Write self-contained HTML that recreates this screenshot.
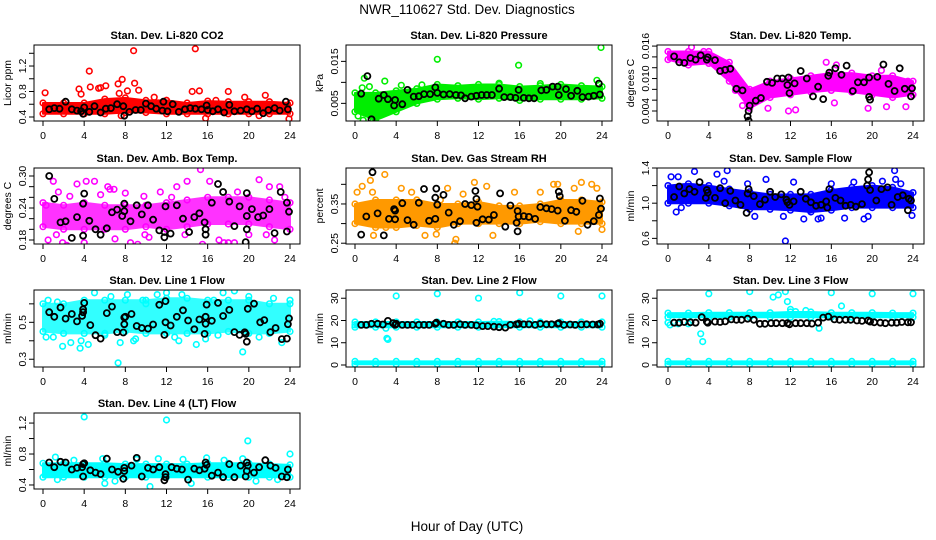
<!DOCTYPE html>
<html><head><meta charset="utf-8">
<style>
html,body{margin:0;padding:0;background:#fff;}
svg{display:block;font-family:"Liberation Sans",Arial,sans-serif;}
</style></head>
<body>
<svg id="chart" width="936" height="540" viewBox="0 0 936 540" xmlns="http://www.w3.org/2000/svg">
<rect x="0" y="0" width="936" height="540" fill="#fff"/>
<text x="467" y="14" text-anchor="middle" font-size="13.5">NWR_110627  Std. Dev. Diagnostics</text>
<text x="467" y="531" text-anchor="middle" font-size="13.5">Hour of Day (UTC)</text>
</svg>
<script>
// ---------------- data ----------------
const xTicks = [0,4,8,12,16,20,24];
const bandHours = [0,2,4,6,8,10,12,14,16,18,20,22,24];

const co2BandLo = [.45,.45,.45,.45,.47,.47,.45,.45,.45,.45,.45,.45,.45];
const co2BandHi = [.62,.62,.62,.68,.70,.66,.66,.62,.65,.64,.64,.64,.62];
const co2Extra = [[0.2,.78],[3.5,.84],[3.7,.76],[4.5,1.12],[4.6,.87],[5.4,.85],[5.6,.86],[6.1,.89],[7.3,.92],[7.7,.99],[7.4,.77],[8.8,1.44],[8.9,.93],[9.3,.82],[8.2,.81],[14.8,1.47],[14.5,.80],[15.2,.81],[15.8,.38],[18.0,.80],[21.6,.74],[23.9,.37],[10.8,.71],[19.6,.71],[7.6,.42],[21.0,.42],[12.0,.66],[16.8,.66]];
const co2Black = [[0.6,.52],[1.1,.54],[1.6,.53],[2.2,.64],[2.8,.52],[3.3,.50],[3.7,.49],[3.9,.45],[4.0,.55],[4.5,.48],[5.0,.57],[5.6,.47],[6.1,.53],[6.6,.54],[7.2,.60],[7.8,.57],[7.9,.42],[8.4,.48],[9.0,.51],[9.5,.51],[10.0,.61],[10.5,.57],[11.0,.53],[11.6,.50],[11.7,.64],[12.1,.49],[12.6,.60],[13.2,.48],[13.8,.52],[14.3,.54],[14.8,.53],[15.4,.52],[15.9,.58],[16.0,.51],[16.5,.49],[17.0,.52],[17.6,.47],[18.1,.59],[18.6,.49],[19.2,.50],[19.8,.52],[20.3,.49],[20.8,.53],[21.4,.46],[21.9,.51],[22.5,.54],[23.0,.50],[23.6,.64],[23.8,.52]];

const presBandLo = [.003,.001,.003,.005,.006,.0062,.006,.0062,.0057,.006,.006,.006,.0062];
const presBandHi = [.0075,.0075,.008,.0085,.0095,.0092,.0095,.0095,.009,.0092,.0095,.0092,.009];
const presExtra = [[8.0,.0155],[15.9,.0141],[23.9,.0183],[23.5,.0105],[2.9,.0103],[1.4,.0090],[0.7,.0087],[0.9,.011],[0.3,.002],[0.8,.001],[1.8,.001],[4.5,.0093],[6.5,.0094],[14.0,.0098],[18.0,.0097]];
const presBlack = [[0.6,.0073],[1.2,.0115],[1.6,.0012],[2.3,.0061],[2.8,.0070],[3.2,.0060],[3.8,.0045],[3.9,.0058],[4.6,.0048],[5.1,.0082],[5.7,.0066],[6.2,.0067],[6.7,.0072],[7.3,.0072],[7.8,.0088],[8.0,.0075],[8.6,.0071],[9.2,.0072],[9.8,.0070],[10.3,.0069],[10.7,.0062],[11.3,.0066],[11.8,.0068],[12.3,.0070],[12.8,.0070],[13.3,.0070],[14.0,.0085],[14.5,.0065],[15.1,.0065],[15.6,.0063],[15.9,.0082],[16.4,.0063],[16.9,.0062],[17.4,.0062],[18.1,.0081],[18.6,.0082],[19.2,.0090],[19.7,.0090],[19.8,.0070],[20.5,.0084],[21.0,.0068],[21.6,.0080],[22.1,.0065],[22.7,.0066],[23.2,.0068],[23.7,.0097],[23.8,.0071]];

const tempBandLo = [.0135,.0125,.0128,.0095,.0045,.0065,.0070,.0075,.0078,.0075,.0070,.0065,.0070];
const tempBandHi = [.0150,.0150,.0150,.0130,.0080,.0095,.0100,.0105,.0110,.0110,.0105,.0105,.0095];
const tempExtra = [[2.3,.0158],[3.5,.0150],[6.6,.0078],[7.3,.0050],[9.8,.0045],[11.8,.0040],[15.5,.0130],[16.3,.0055],[16.5,.0125],[19.6,.0045],[21.4,.0048],[23.3,.0048],[20.9,.0115],[23.5,.0095],[12.5,.0042]];
const tempBlack = [[0.6,.0141],[1.1,.0130],[1.6,.0129],[2.2,.0138],[2.7,.0135],[3.2,.0143],[3.8,.0135],[3.9,.0139],[4.6,.0134],[5.1,.0114],[5.6,.0116],[6.1,.0118],[6.7,.0081],[7.3,.0078],[7.8,.0030],[7.9,.0022],[7.9,.0040],[8.0,.0050],[8.6,.0059],[9.1,.0064],[9.7,.0094],[10.2,.0092],[10.7,.0100],[11.2,.0100],[11.7,.0088],[11.8,.0102],[11.9,.0073],[12.4,.0091],[13.0,.0114],[13.6,.0100],[14.2,.0067],[14.7,.0085],[15.2,.0062],[15.7,.0105],[15.8,.0111],[16.4,.0119],[17.0,.0107],[17.5,.0124],[18.1,.0077],[18.6,.0093],[19.2,.0093],[19.7,.0066],[19.8,.0061],[19.7,.0102],[20.5,.0103],[21.1,.0126],[21.6,.0090],[22.2,.0077],[22.7,.0119],[23.2,.0081],[23.8,.0067],[23.9,.0082]];

const ambBandLo = [.205,.20,.20,.20,.20,.205,.20,.205,.21,.21,.21,.205,.20];
const ambBandHi = [.25,.245,.25,.245,.245,.245,.25,.255,.26,.26,.26,.255,.25];
const ambExtra = [[0.5,.18],[1.0,.29],[1.5,.27],[1.9,.175],[2.3,.17],[3.3,.285],[4.2,.29],[5.0,.29],[6.3,.28],[6.9,.275],[7.0,.182],[8.5,.175],[9.2,.172],[9.8,.262],[10.3,.185],[11.4,.27],[13.0,.28],[14.0,.29],[14.2,.165],[15.3,.312],[15.5,.172],[16.2,.29],[17.1,.18],[18.0,.175],[18.6,.175],[21.0,.293],[22.0,.28],[22.5,.18],[23.0,.28],[23.5,.26],[4.0,.175],[12.5,.26],[17.6,.175],[20.0,.19],[8.0,.268],[6.5,.275],[0.3,.245],[2.6,.262],[1.3,.19],[5.6,.265],[9.9,.19],[13.8,.19],[18.9,.27],[21.7,.19]];
const ambBlack = [[0.6,.30],[1.1,.257],[1.7,.213],[2.2,.215],[2.8,.184],[3.3,.223],[3.9,.188],[3.9,.248],[4.0,.267],[4.5,.216],[5.1,.200],[5.6,.190],[6.2,.202],[6.7,.232],[7.2,.237],[7.7,.225],[7.9,.234],[7.9,.248],[8.5,.215],[9.1,.245],[9.6,.228],[10.2,.245],[10.7,.218],[11.3,.198],[11.8,.185],[11.8,.195],[11.9,.243],[12.4,.192],[13.0,.245],[13.6,.220],[14.2,.195],[14.7,.223],[15.2,.230],[15.7,.213],[15.8,.200],[15.8,.190],[16.4,.250],[17.0,.285],[17.5,.270],[18.1,.252],[18.6,.206],[19.1,.243],[19.7,.176],[19.8,.225],[19.8,.200],[19.8,.268],[20.3,.238],[20.9,.223],[21.4,.226],[22.0,.238],[22.5,.193],[23.1,.270],[23.7,.196],[23.7,.250],[23.9,.233]];

const rhBandLo = [.30,.29,.29,.295,.29,.30,.30,.30,.30,.305,.30,.30,.30];
const rhBandHi = [.35,.36,.36,.36,.35,.35,.355,.345,.345,.35,.36,.36,.355];
const rhExtra = [[0.2,.38],[0.7,.395],[1.5,.41],[1.7,.38],[2.9,.425],[4.5,.39],[5.5,.38],[6.0,.36],[6.8,.27],[7.9,.273],[8.3,.36],[9.0,.39],[9.8,.26],[9.7,.25],[11.6,.405],[12.8,.395],[13.4,.27],[15.5,.38],[19.3,.40],[19.7,.40],[21.3,.39],[21.7,.28],[22.0,.405],[23.0,.40],[24.0,.285],[10.5,.375],[18.0,.38],[1.8,.27],[3.0,.29],[23.5,.39]];
const rhBlack = [[0.6,.272],[1.1,.318],[1.7,.431],[2.2,.326],[2.8,.270],[3.3,.312],[3.8,.337],[3.9,.333],[3.9,.311],[4.6,.352],[5.1,.309],[5.7,.297],[6.2,.353],[6.7,.388],[7.2,.307],[7.8,.312],[7.8,.366],[7.9,.389],[8.0,.348],[8.6,.373],[9.1,.328],[9.6,.297],[10.2,.306],[10.7,.350],[11.3,.347],[11.7,.383],[11.8,.363],[11.8,.302],[11.9,.343],[12.4,.311],[13.0,.310],[13.5,.322],[14.1,.377],[14.6,.292],[15.1,.346],[15.7,.302],[15.8,.280],[15.8,.332],[15.9,.318],[16.4,.319],[16.9,.317],[17.5,.312],[18.0,.342],[18.6,.339],[19.1,.337],[19.7,.333],[19.8,.381],[19.9,.370],[20.4,.307],[21.0,.334],[21.5,.330],[22.1,.358],[22.6,.297],[23.2,.306],[23.7,.322],[23.8,.364],[23.9,.338]];

const flowBandLo = [1.0,1.0,1.0,.97,.93,.93,.92,.9,.92,.95,.95,.95,.95];
const flowBandHi = [1.2,1.22,1.2,1.16,1.13,1.1,1.1,1.1,1.15,1.18,1.2,1.18,1.12];
const flowExtra = [[0.3,1.30],[0.8,0.90],[1.0,1.30],[1.3,0.95],[2.6,1.36],[4.8,1.33],[5.8,1.37],[5.5,1.25],[7.8,1.22],[8.5,0.85],[9.6,1.27],[11.5,0.57],[11.3,0.85],[12.3,1.24],[13.3,0.82],[13.9,0.92],[14.7,0.82],[15.0,0.83],[16.0,1.22],[17.3,0.83],[19.2,0.82],[19.6,0.85],[22.2,1.37],[22.3,1.27],[22.8,1.22],[23.9,0.86],[21.0,1.25],[18.2,1.24]];
const flowBlack = [[0.6,1.07],[1.1,1.19],[1.6,1.11],[2.1,1.16],[2.6,1.13],[3.1,1.24],[3.7,1.06],[3.8,1.15],[3.9,1.12],[4.6,1.06],[5.1,1.17],[5.6,1.00],[6.1,1.14],[6.6,1.03],[7.1,0.98],[7.7,0.89],[7.8,1.11],[7.9,1.16],[8.4,1.08],[9.0,0.99],[9.5,1.04],[10.0,1.13],[10.5,1.07],[11.1,1.10],[11.6,1.04],[11.7,1.01],[11.9,0.98],[12.3,1.02],[13.0,1.13],[13.5,1.05],[14.0,1.01],[14.5,0.97],[15.0,0.98],[15.5,1.02],[15.6,0.95],[15.8,1.16],[16.4,1.06],[16.9,1.03],[17.4,0.97],[17.9,0.98],[18.4,0.96],[19.0,0.99],[19.5,1.20],[19.6,1.27],[19.7,1.35],[19.8,1.15],[20.4,1.03],[20.9,1.16],[21.5,1.18],[21.9,0.98],[22.5,1.07],[23.0,1.09],[23.5,0.92],[23.6,1.05],[23.8,1.03]];

const line1BandLo = [.45,.44,.44,.44,.45,.44,.44,.44,.44,.45,.44,.44,.45];
const line1BandHi = [.60,.60,.62,.62,.62,.62,.63,.63,.62,.62,.62,.60,.60];
const line1Extra = [[0.3,.42],[0.5,.62],[1.4,.61],[1.9,.37],[2.7,.39],[3.6,.36],[3.7,.40],[4.4,.38],[6.6,.64],[7.3,.28],[7.5,.39],[8.2,.65],[8.8,.40],[10.0,.60],[11.1,.65],[12.0,.66],[12.8,.42],[13.5,.65],[14.9,.38],[15.8,.41],[17.5,.66],[18.6,.67],[19.4,.34],[20.0,.64],[22.4,.63],[23.2,.39],[24.0,.62],[9.7,.62],[16.6,.62],[5.0,.66],[1.0,.42],[6.0,.43],[9.0,.41],[13.2,.40],[17.0,.43],[21.0,.42]];
const line1Black = [[0.6,.555],[1.1,.530],[1.7,.580],[2.2,.520],[2.8,.545],[3.3,.505],[3.8,.535],[3.9,.555],[3.9,.570],[4.0,.605],[4.6,.485],[5.1,.430],[5.6,.412],[6.2,.550],[6.7,.585],[7.2,.447],[7.8,.445],[7.9,.490],[7.9,.526],[8.0,.530],[8.6,.545],[9.1,.480],[9.6,.469],[10.2,.466],[10.7,.488],[11.3,.595],[11.8,.432],[11.9,.500],[11.9,.615],[12.4,.483],[13.0,.530],[13.6,.565],[14.1,.510],[14.7,.462],[15.2,.515],[15.7,.437],[15.8,.530],[15.8,.492],[15.9,.596],[16.4,.508],[17.0,.605],[17.5,.534],[18.1,.567],[18.6,.447],[19.1,.432],[19.6,.446],[19.7,.437],[19.8,.395],[19.9,.573],[20.5,.601],[21.1,.500],[21.5,.512],[22.1,.447],[22.6,.469],[23.2,.409],[23.7,.412],[23.8,.490],[23.9,.521]];

const line2BandLo = [17,17,17,17,17,17,17,17,17,17,17,17,17];
const line2BandHi = [19.3,19.3,19.3,19.3,19.3,19.3,19.3,19.5,19.3,19.3,19.3,19.3,19.3];
const line2LowLo = [0.3,0.3,0.3,0.3,0.3,0.3,0.3,0.3,0.3,0.3,0.3,0.3,0.3];
const line2LowHi = [1.6,1.6,1.6,1.6,1.6,1.6,1.6,1.6,1.6,1.6,1.6,1.6,1.6];
const line2Extra = [[4,31],[8,32],[12,30],[16,32.5],[20,31],[24,31],[3.1,12],[3.2,11.5],[3.0,16.5],[17.0,19.8],[0,18],[13.5,19.6]];
const line2Black = [[0.6,18],[1.1,18],[1.6,18.5],[2.2,18.5],[2.7,18.2],[3.2,19.8],[3.7,18.8],[3.9,18],[4.0,18.5],[4.6,18],[5.1,18],[5.6,18],[6.2,18],[6.7,18],[7.2,18],[7.8,18.5],[7.9,19],[8.6,18.5],[9.1,18],[9.6,18],[10.2,18.3],[10.7,18],[11.3,18],[11.8,17.8],[12.4,17.5],[12.9,17.5],[13.5,17.2],[14.0,17],[14.6,16.8],[15.1,18],[15.7,18.3],[15.9,18.5],[16.4,18.3],[16.9,18.3],[17.5,18],[18.0,18.5],[18.6,18.3],[19.1,18.3],[19.7,18.5],[19.8,18.8],[20.3,18],[20.9,18.2],[21.4,18],[22.0,18.2],[22.5,18.3],[23.1,18.2],[23.6,18.2],[23.8,18.5]];

const line3BandLo = [21.5,21.5,21.5,21.5,21.5,21.5,21.5,21.5,21.5,21.5,21.5,21.5,21.5];
const line3BandHi = [23.3,23.3,23.5,23.5,23.5,23.5,23.8,23.8,23.5,23.5,23.5,23.3,23.3];
const line3LowLo = [0.3,0.3,0.3,0.3,0.3,0.3,0.3,0.3,0.3,0.3,0.3,0.3,0.3];
const line3LowHi = [1.6,1.6,1.6,1.6,1.6,1.6,1.6,1.6,1.6,1.6,1.6,1.6,1.6];
const line3Extra = [[4,32],[8,33],[10.3,30.5],[10.8,31.5],[11.5,33],[11.7,28.5],[16,32.5],[17,26.5],[20,32],[24,32],[3.2,14],[3.4,10.5],[12.0,25],[14.8,16.5],[0,19],[0.2,18],[1.0,18.5],[2.0,18.5],[12.5,24],[13.5,24.5]];
const line3Black = [[0.6,19],[1.1,19],[1.6,19.3],[2.2,19.2],[2.7,19],[3.3,21.5],[3.8,19.5],[3.9,19],[4.6,19.5],[5.1,19.3],[5.6,19.6],[6.2,20.5],[6.7,20.3],[7.2,20.3],[7.8,20.8],[8.4,20.3],[9.0,18.5],[9.5,18.5],[10.1,18.8],[10.6,18.8],[11.2,18.8],[11.7,18.8],[11.9,18.3],[12.5,18.8],[13.0,18.8],[13.6,18.8],[14.1,18.6],[14.7,19],[15.2,21.3],[15.7,21.7],[16.3,20.5],[16.8,20.3],[17.4,20.3],[17.9,20.3],[18.5,20],[19.0,19.8],[19.6,20],[19.8,19.5],[20.2,19.2],[20.8,19],[21.3,18.8],[21.9,19],[22.4,19],[22.9,19.3],[23.5,19.2],[23.8,19.2]];

const line4BandLo = [.50,.50,.50,.50,.50,.50,.50,.50,.50,.50,.50,.50,.50];
const line4BandHi = [.68,.68,.68,.68,.67,.67,.67,.67,.68,.68,.68,.67,.66];
const line4Extra = [[4.0,1.28],[12.0,1.24],[19.9,.97],[24.0,.80],[10.4,.38],[6.0,.42],[14.4,.42],[1.2,.76],[5.8,.74],[9.1,.73],[11.2,.74],[13.6,.73],[15.9,.75],[19.4,.74],[3.0,.72],[0.2,.53],[20.7,.45],[1.4,.47],[7.0,.45],[17.6,.72],[22.8,.47]];
const line4Black = [[0.6,.69],[1.1,.63],[1.7,.70],[2.2,.69],[2.8,.60],[3.3,.62],[3.8,.63],[3.9,.51],[3.9,.67],[4.0,.68],[4.6,.59],[5.1,.56],[5.6,.54],[6.2,.74],[6.7,.60],[7.3,.57],[7.8,.48],[7.9,.58],[7.9,.62],[8.6,.65],[9.1,.75],[9.6,.51],[10.2,.62],[10.7,.60],[11.3,.63],[11.8,.46],[11.9,.50],[11.9,.54],[12.5,.63],[13.0,.61],[13.5,.60],[14.1,.47],[14.7,.61],[15.2,.59],[15.7,.61],[15.8,.69],[15.9,.66],[16.4,.52],[17.0,.56],[17.5,.50],[18.1,.67],[18.6,.50],[19.2,.65],[19.7,.51],[19.8,.58],[19.8,.69],[19.9,.65],[20.5,.56],[21.0,.63],[21.6,.72],[22.1,.65],[22.6,.62],[23.2,.51],[23.7,.50],[23.8,.60]];

const co2Ticks = [0.4,0.6,0.8,1.0,1.2,1.4], co2Labels = ["0.4","","0.8","","1.2",""];
const presTicks = [0.005,0.010,0.015], presLabels = ["0.005","","0.015"];
const tempTicks = [0.004,0.006,0.008,0.010,0.012,0.014,0.016], tempLabels = ["0.004","","","0.010","","","0.016"];
const ambTicks = [0.18,0.20,0.22,0.24,0.26,0.28,0.30], ambLabels = ["0.18","","","0.24","","","0.30"];
const rhTicks = [0.25,0.30,0.35,0.40], rhLabels = ["0.25","","0.35",""];
const flowTicks = [0.6,0.8,1.0,1.2,1.4], flowLabels = ["0.6","","1.0","","1.4"];
const line1Ticks = [0.3,0.4,0.5,0.6], line1Labels = ["0.3","","0.5",""];
const bigTicks = [0,10,20,30], bigLabels = ["0","10","20","30"];
const line4Ticks = [0.4,0.6,0.8,1.0,1.2], line4Labels = ["0.4","","0.8","","1.2"];

// ---------------- layout ----------------
const NS = "http://www.w3.org/2000/svg";
const svg = document.getElementById('chart');
const cols = [{l:34,r:300,x0:43,x24:290},{l:346,r:612,x0:355,x24:602},{l:657,r:924,x0:668,x24:913}];
const rows = [{t:45,b:121},{t:168,b:244},{t:290,b:367},{t:413,b:489}];

function mk(tag, attrs, parent){
  const e = document.createElementNS(NS, tag);
  for (const k in attrs) e.setAttribute(k, attrs[k]);
  (parent||svg).appendChild(e);
  return e;
}

const panels = [
 {key:'co2',title:'Stan. Dev. Li-820 CO2',yt:'Licor ppm',c:0,r:0,ymin:0.337,ymax:1.53,ticks:co2Ticks,labels:co2Labels,lo:co2BandLo,hi:co2BandHi,extra:co2Extra,black:co2Black,col:'#ff0000'},
 {key:'pressure',title:'Stan. Dev. Li-820 Pressure',yt:'kPa',c:1,r:0,ymin:0.0008,ymax:0.0189,ticks:presTicks,labels:presLabels,lo:presBandLo,hi:presBandHi,extra:presExtra,black:presBlack,col:'#00ee00'},
 {key:'temp',title:'Stan. Dev. Li-820 Temp.',yt:'degrees C',c:2,r:0,ymin:0.00215,ymax:0.0162,ticks:tempTicks,labels:tempLabels,lo:tempBandLo,hi:tempBandHi,extra:tempExtra,black:tempBlack,col:'#ff00ff'},
 {key:'amb-box',title:'Stan. Dev. Amb. Box Temp.',yt:'degrees C',c:0,r:1,ymin:0.1725,ymax:0.315,ticks:ambTicks,labels:ambLabels,lo:ambBandLo,hi:ambBandHi,extra:ambExtra,black:ambBlack,col:'#ff00ff'},
 {key:'gas-rh',title:'Stan. Dev. Gas Stream RH',yt:'percent',c:1,r:1,ymin:0.248,ymax:0.4416,ticks:rhTicks,labels:rhLabels,lo:rhBandLo,hi:rhBandHi,extra:rhExtra,black:rhBlack,col:'#ff9900'},
 {key:'sample-flow',title:'Stan. Dev. Sample Flow',yt:'ml/min',c:2,r:1,ymin:0.536,ymax:1.40,ticks:flowTicks,labels:flowLabels,lo:flowBandLo,hi:flowBandHi,extra:flowExtra,black:flowBlack,col:'#0000ff'},
 {key:'line1',title:'Stan. Dev. Line 1 Flow',yt:'ml/min',c:0,r:2,ymin:0.258,ymax:0.675,ticks:line1Ticks,labels:line1Labels,lo:line1BandLo,hi:line1BandHi,extra:line1Extra,black:line1Black,col:'#00ffff'},
 {key:'line2',title:'Stan. Dev. Line 2 Flow',yt:'ml/min',c:1,r:2,ymin:-0.9,ymax:33.7,ticks:bigTicks,labels:bigLabels,lo:line2BandLo,hi:line2BandHi,lo2:line2LowLo,hi2:line2LowHi,extra:line2Extra,black:line2Black,col:'#00ffff'},
 {key:'line3',title:'Stan. Dev. Line 3 Flow',yt:'ml/min',c:2,r:2,ymin:-0.9,ymax:33.7,ticks:bigTicks,labels:bigLabels,lo:line3BandLo,hi:line3BandHi,lo2:line3LowLo,hi2:line3LowHi,extra:line3Extra,black:line3Black,col:'#00ffff'},
 {key:'line4',title:'Stan. Dev. Line 4 (LT) Flow',yt:'ml/min',c:0,r:3,ymin:0.348,ymax:1.33,ticks:line4Ticks,labels:line4Labels,lo:line4BandLo,hi:line4BandHi,extra:line4Extra,black:line4Black,col:'#00ffff'}
];

panels.forEach(p => {
  const C = cols[p.c], R = rows[p.r];
  const xs = h => C.x0 + (C.x24 - C.x0) * h / 24;
  const ys = v => R.b - (R.b - R.t) * (v - p.ymin) / (p.ymax - p.ymin);
  const g = mk('g', {});
  
  
  const clipId = 'clip-' + p.key;
  const cp = mk('clipPath', {id: clipId}, g);
  mk('rect', {x:C.l, y:R.t, width:C.r-C.l, height:R.b-R.t}, cp);

  const t = mk('text', {x:(C.l+C.r)/2, y:R.t-6, 'text-anchor':'middle', 'font-size':'11', 'font-weight':'bold'}, g);
  t.textContent = p.title;
  
  

  const marks = mk('g', {'clip-path':'url(#'+clipId+')'}, g);
  
  

  const drawBand = (lo, hi, name) => {
    let pts = bandHours.map((h,i) => xs(h).toFixed(1)+','+ys(hi[i]).toFixed(1));
    pts = pts.concat(bandHours.slice().reverse().map((h,j) => { const i = bandHours.length-1-j; return xs(h).toFixed(1)+','+ys(lo[i]).toFixed(1); }));
    const poly = mk('polygon', {points:pts.join(' '), fill:p.col, stroke:p.col, 'stroke-width':'2', 'stroke-linejoin':'round', opacity: (p.key==='amb-box'||p.key==='line1') ? '0.8' : '1'}, marks);
    
    
    // ragged edge markers along band boundaries
    for (let i = 0; i < bandHours.length; i++) {
      [lo[i], hi[i]].forEach(v => {
        const c = mk('circle', {cx:xs(bandHours[i]).toFixed(1), cy:ys(v).toFixed(1), r:'2.8', fill:'none', stroke:p.col, 'stroke-width':'1.6'}, marks);
        
        
      });
    }
  };
  drawBand(p.lo, p.hi, p.key + '-band');
  if (p.lo2) drawBand(p.lo2, p.hi2, p.key + '-low-band');

  p.extra.forEach(d => {
    const c = mk('circle', {cx:xs(d[0]).toFixed(1), cy:ys(d[1]).toFixed(1), r:'2.8', fill:'none', stroke:p.col, 'stroke-width':'1.6'}, marks);
    
    
  });
  p.black.forEach(d => {
    const c = mk('circle', {cx:xs(d[0]).toFixed(1), cy:ys(d[1]).toFixed(1), r:'3', fill:'none', stroke:'#000', 'stroke-width':'1.8'}, marks);
    
    
  });

  const box = mk('rect', {x:C.l, y:R.t, width:C.r-C.l, height:R.b-R.t, fill:'none', stroke:'#000', 'stroke-width':'1'}, g);
  
  

  // x axis
  const xa = mk('g', {}, g);
  
  
  mk('line', {x1:xs(xTicks[0]), x2:xs(xTicks[xTicks.length-1]), y1:R.b, y2:R.b, stroke:'#000'}, xa);
  xTicks.forEach(h => {
    mk('line', {x1:xs(h), x2:xs(h), y1:R.b, y2:R.b+5, stroke:'#000'}, xa);
    const lt = mk('text', {x:xs(h), y:R.b+18, 'text-anchor':'middle', 'font-size':'10.5'}, xa);
    lt.textContent = h;
    
    
  });

  // y axis
  const ya = mk('g', {}, g);
  
  
  p.ticks.forEach((v,i) => {
    const y = ys(v);
    mk('line', {x1:C.l-5, x2:C.l, y1:y, y2:y, stroke:'#000'}, ya);
    if (p.labels[i]) {
      const lt = mk('text', {x:0, y:0, transform:'translate('+(C.l-8)+','+y.toFixed(1)+') rotate(-90)', 'text-anchor':'middle', 'font-size':'10.5'}, ya);
      lt.textContent = p.labels[i];
      
      
    }
  });
  const yt = mk('text', {x:0, y:0, transform:'translate('+(C.l-23)+','+((R.t+R.b)/2)+') rotate(-90)', 'text-anchor':'middle', 'font-size':'10.5'}, g);
  yt.textContent = p.yt;
  
  
});
</script>
</body></html>
